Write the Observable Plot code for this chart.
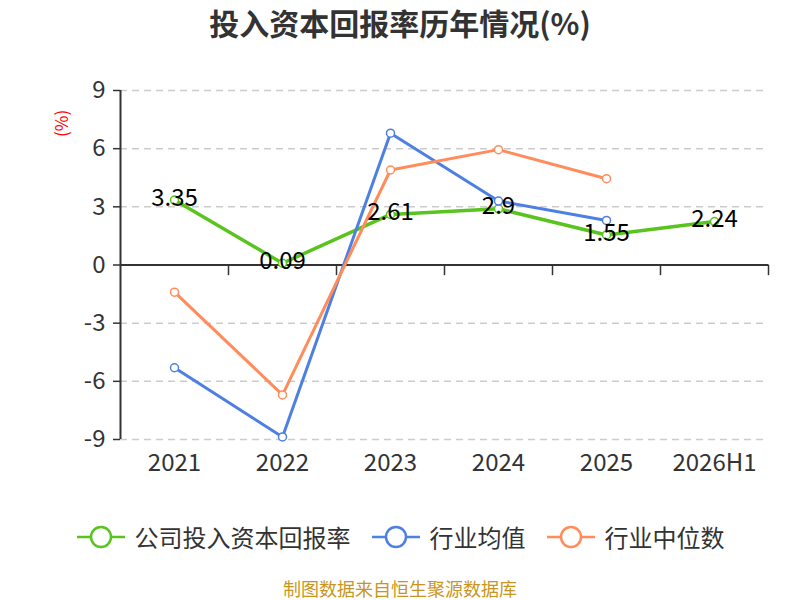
<!DOCTYPE html>
<html><head><meta charset="utf-8">
<script src="https://cdn.jsdelivr.net/npm/d3@7"></script>
<script src="https://cdn.jsdelivr.net/npm/@observablehq/plot@0.6"></script>
<style>
body{margin:0;background:#fff;font-family:"Noto Sans CJK SC","Noto Sans",sans-serif;}
#wrap{position:relative;width:800px;height:600px;overflow:hidden;}
#title{position:absolute;top:3px;left:0;width:800px;text-align:center;font-size:30px;font-weight:bold;color:#333;line-height:38px;}
#chart{position:absolute;top:50px;left:0;}
#ylab{position:absolute;left:48px;top:114px;color:#f00;font-size:17px;transform:rotate(-90deg);transform-origin:center;width:26px;text-align:center;line-height:20px;}
#legend{position:absolute;top:519px;left:0;width:800px;display:flex;justify-content:center;gap:20px;font-size:24px;color:#333;line-height:36px;}
.item{display:flex;align-items:center;gap:9px;}
#caption{position:absolute;top:576px;left:0;width:800px;text-align:center;font-size:18px;color:#c8961e;line-height:24px;}
</style></head>
<body><div id="wrap">
<div id="title">投入资本回报率历年情况(%)</div>
<div id="ylab">(%)</div>
<div id="chart"></div>
<div id="legend"></div>
<div id="caption">制图数据来自恒生聚源数据库</div>
</div>
<script>
const categories = ["2021","2022","2023","2024","2025","2026H1"];
const company = [3.35, 0.09, 2.61, 2.9, 1.55, 2.24];
const industryMean = [-5.3, -8.87, 6.8, 3.3, 2.3];
const industryMedian = [-1.4, -6.7, 4.9, 5.95, 4.45];
const yTicks = [-9,-6,-3,0,3,6,9];
const seriesNames = ["公司投入资本回报率","行业均值","行业中位数"];
const colors = ["#5ac41f","#4e7fe2","#ff8c5a"];

const toRows = (vals) => vals.map((v,i)=>({x:i+0.5, y:v, label:String(v)}));
const rows = [toRows(company), toRows(industryMean), toRows(industryMedian)];

const font = '"Noto Sans CJK SC","Noto Sans",sans-serif';
const plot = Plot.plot({
  width: 800, height: 440,
  marginLeft: 120, marginRight: 32, marginTop: 40, marginBottom: 51,
  style: {fontFamily: font, background: "transparent"},
  x: {domain: [0, categories.length], axis: null},
  y: {domain: [-9, 9], axis: null},
  marks: [
    Plot.ruleY(yTicks.filter(d=>d!==0), {stroke:"#ccc", strokeWidth:1.5, strokeDasharray:"7,5"}),
    Plot.axisY({ticks: yTicks, label: null, tickSize: 7, tickPadding: 8, fontSize: 24, color:"#333", stroke:"#333", strokeWidth:1.5, tickFormat: d=>String(d)}),
    Plot.axisX({ticks: categories.map((c,i)=>i+0.5), label: null, tickSize: 0, tickPadding: 14, fontSize: 24, color:"#333", tickFormat: d=>categories[Math.round(d-0.5)]}),
    Plot.ruleX([0], {stroke:"#333", strokeWidth:2}),
    Plot.ruleY([0], {stroke:"#333", strokeWidth:2}),
    Plot.ruleX(d3.range(1, categories.length+1), {y1: 0, y2: -0.55, stroke:"#333", strokeWidth:1.5}),
    ...rows.map((r,k)=>Plot.line(r, {x:"x", y:"y", stroke:colors[k], strokeWidth:k===0?3.5:3})),
    ...rows.map((r,k)=>Plot.dot(r, {x:"x", y:"y", r:4, fill:"#fff", stroke:colors[k], strokeWidth:1.5})),
    Plot.text(rows[0], {x:"x", y:"y", text:"label", fontSize:24, fill:"#000", dy:-2, textAnchor:"middle"})
  ]
});
document.getElementById("chart").appendChild(plot);

const legend = document.getElementById("legend");
seriesNames.forEach((n,k)=>{
  const it = document.createElement("div");
  it.className = "item";
  it.innerHTML = `<svg width="50" height="26"><line x1="1" x2="49" y1="13" y2="13" stroke="${colors[k]}" stroke-width="2.5"/><circle cx="25" cy="13" r="10" fill="#fff" stroke="${colors[k]}" stroke-width="2.5"/></svg><span>${n}</span>`;
  legend.appendChild(it);
});
</script>
</body></html>
